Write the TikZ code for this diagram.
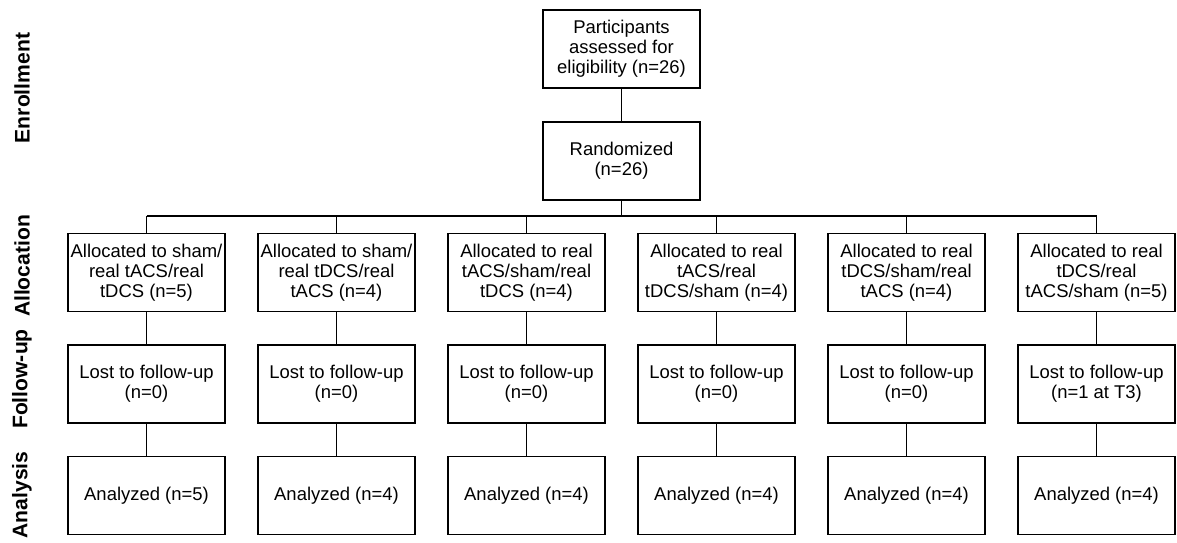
\documentclass[tikz,border=0pt]{standalone}
\usepackage{fontspec}
\setmainfont{Liberation Sans}
\usepackage{tikz}
\usetikzlibrary{positioning,calc}

\begin{document}
\begin{tikzpicture}[
            % Style for the flow boxes
            flowbox/.style={draw, line width=0.6pt, minimum width=3.14cm, minimum height=1.56cm,
                align=center, inner sep=1pt, font=\fontsize{10.5}{11.3}\selectfont},
            % Style for the stage labels on the left
            stagelabel/.style={rotate=90, font=\fontsize{12}{14}\selectfont\bfseries},
            % Style for the connectors
            link/.style={line width=0.6pt},
            trunk/.style={line width=1.1pt}
        ]
            \useasboundingbox (0,0) rectangle (23.54,-10.84);

            % --- 1. STAGE LABELS ---
            \node[stagelabel] (lenrol) at (0.44, -1.76) {Enrollment};
            \node[stagelabel] (lalloc) at (0.44, -5.32) {Allocation};
            \node[stagelabel] (lfollow) at (0.44, -7.58) {Follow-up};
            \node[stagelabel] (lanalys) at (0.44, -9.90) {Analysis};

            % --- 2. ENROLLMENT ---
            \node[flowbox] (elig) at (12.43, -0.98) {Participants\\assessed for\\eligibility (n=26)};
            \node[flowbox] (rand) at (12.43, -3.22) {Randomized\\(n=26)};
            \draw[link] (elig.south) -- (rand.south |- rand.north);

            % --- 3. ALLOCATION ---
            \node[flowbox] (a1) at (2.93, -5.45) {Allocated to sham/\\real tACS/real\\tDCS (n=5)};
            \node[flowbox] (a2) at (6.73, -5.45) {Allocated to sham/\\real tDCS/real\\tACS (n=4)};
            \node[flowbox] (a3) at (10.53, -5.45) {Allocated to real\\tACS/sham/real\\tDCS (n=4)};
            \node[flowbox] (a4) at (14.33, -5.45) {Allocated to real\\tACS/real\\tDCS/sham (n=4)};
            \node[flowbox] (a5) at (18.13, -5.45) {Allocated to real\\tDCS/sham/real\\tACS (n=4)};
            \node[flowbox] (a6) at (21.93, -5.45) {Allocated to real\\tDCS/real\\tACS/sham (n=5)};

            % Branch bar under the randomization box
            \coordinate (split) at (12.43, -4.32);
            \draw[trunk] (rand.south) -- (split);
            \draw[trunk] (a1.north |- split) -- (a6.north |- split);
            \draw[link] (a1.north |- split) -- (a1.north);
            \draw[link] (a2.north |- split) -- (a2.north);
            \draw[link] (a3.north |- split) -- (a3.north);
            \draw[link] (a4.north |- split) -- (a4.north);
            \draw[link] (a5.north |- split) -- (a5.north);
            \draw[link] (a6.north |- split) -- (a6.north);

            % --- 4. FOLLOW-UP ---
            \node[flowbox] (f1) at (2.93, -7.68) {Lost to follow-up\\(n=0)};
            \node[flowbox] (f2) at (6.73, -7.68) {Lost to follow-up\\(n=0)};
            \node[flowbox] (f3) at (10.53, -7.68) {Lost to follow-up\\(n=0)};
            \node[flowbox] (f4) at (14.33, -7.68) {Lost to follow-up\\(n=0)};
            \node[flowbox] (f5) at (18.13, -7.68) {Lost to follow-up\\(n=0)};
            \node[flowbox] (f6) at (21.93, -7.68) {Lost to follow-up\\(n=1 at T3)};

            % --- 5. ANALYSIS ---
            \node[flowbox] (n1) at (2.93, -9.91) {Analyzed (n=5)};
            \node[flowbox] (n2) at (6.73, -9.91) {Analyzed (n=4)};
            \node[flowbox] (n3) at (10.53, -9.91) {Analyzed (n=4)};
            \node[flowbox] (n4) at (14.33, -9.91) {Analyzed (n=4)};
            \node[flowbox] (n5) at (18.13, -9.91) {Analyzed (n=4)};
            \node[flowbox] (n6) at (21.93, -9.91) {Analyzed (n=4)};

            % Vertical links down each column
            \draw[link] (a1.south) -- (f1.north);
            \draw[link] (a2.south) -- (f2.north);
            \draw[link] (a3.south) -- (f3.north);
            \draw[link] (a4.south) -- (f4.north);
            \draw[link] (a5.south) -- (f5.north);
            \draw[link] (a6.south) -- (f6.north);
            \draw[link] (f1.south) -- (n1.north);
            \draw[link] (f2.south) -- (n2.north);
            \draw[link] (f3.south) -- (n3.north);
            \draw[link] (f4.south) -- (n4.north);
            \draw[link] (f5.south) -- (n5.north);
            \draw[link] (f6.south) -- (n6.north);

        \end{tikzpicture}
\end{document}
